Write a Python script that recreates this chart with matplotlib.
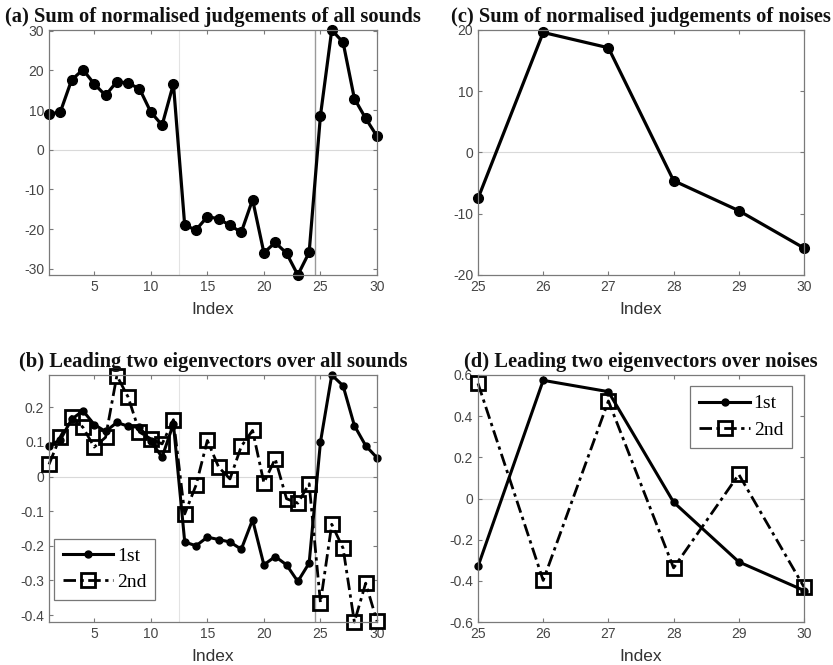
import matplotlib
matplotlib.use("Agg")
import matplotlib.pyplot as plt
import numpy as np

plt.rcParams["axes.unicode_minus"] = False

# ---- data -------------------------------------------------------------
index_all = list(range(1, 31))
sum_all = [9.0, 9.5, 17.6, 20.2, 16.6, 13.7, 17.2, 16.8, 15.4, 9.5,
           6.2, 16.6, -19.1, -20.2, -16.9, -17.4, -19.1, -20.8, -12.6, -26.0,
           -23.4, -26.1, -31.6, -25.9, 8.6, 30.2, 27.1, 12.9, 7.9, 3.4]

eig1_all = [0.088, 0.106, 0.165, 0.190, 0.150, 0.130, 0.156, 0.145, 0.142, 0.102,
            0.056, 0.152, -0.189, -0.200, -0.175, -0.182, -0.189, -0.210, -0.125, -0.255,
            -0.231, -0.255, -0.303, -0.250, 0.099, 0.293, 0.262, 0.147, 0.089, 0.054]
eig2_all = [0.035, 0.115, 0.173, 0.142, 0.085, 0.113, 0.291, 0.229, 0.128, 0.109,
            0.094, 0.164, -0.108, -0.025, 0.104, 0.027, -0.007, 0.087, 0.133, -0.018,
            0.051, -0.064, -0.077, -0.021, -0.364, -0.138, -0.207, -0.420, -0.308, -0.418]

index_noise = [25, 26, 27, 28, 29, 30]
sum_noise = [-7.5, 19.6, 17.1, -4.6, -9.5, -15.6]
eig1_noise = [-0.330, 0.574, 0.519, -0.018, -0.308, -0.447]
eig2_noise = [0.559, -0.398, 0.474, -0.337, 0.117, -0.430]

group_bounds = [12.5, 24.5]

titles = ["(a) Sum of normalised judgements of all sounds",
          "(b) Leading two eigenvectors over all sounds",
          "(c) Sum of normalised judgements of noises",
          "(d) Leading two eigenvectors over noises"]
legend_labels = ["1st", "2nd"]

# ---- style ------------------------------------------------------------
SERIF = ["Liberation Serif", "DejaVu Serif"]
SANS = ["Liberation Sans", "DejaVu Sans"]
TICK_COL = "#454545"
SPINE_COL = "#7a7a7a"
DASHDOT = (0, (4.5, 1.6, 1.2, 1.6))

fig = plt.figure(figsize=(8.33, 6.65), dpi=100)
W, H = 833, 665


def add_axes(x0, y0, x1, y1):
    return fig.add_axes([x0 / W, 1 - y1 / H, (x1 - x0) / W, (y1 - y0) / H])


def style(ax, title):
    for s in ax.spines.values():
        s.set_color(SPINE_COL)
        s.set_linewidth(0.9)
    ax.tick_params(direction="in", top=True, right=True, length=3,
                   width=0.8, color=SPINE_COL, labelcolor=TICK_COL,
                   labelsize=10, pad=3.5)
    for lab in ax.get_xticklabels() + ax.get_yticklabels():
        lab.set_family(SANS)
    ax.set_title(title, family=SERIF, fontweight="bold", fontsize=14.8,
                 pad=6, color="#111111")
    ax.set_xlabel("Index", family=SANS, fontsize=12.5, color="#333333", labelpad=6)


def leg(ax, **kw):
    lg = ax.legend(prop={"family": SERIF, "size": 14}, frameon=True,
                   fancybox=False, handlelength=2.6, handletextpad=0.2,
                   borderpad=0.45, labelspacing=0.45, borderaxespad=0, **kw)
    lg.get_frame().set_edgecolor("#555555")
    lg.get_frame().set_linewidth(0.9)
    return lg


ax_a = add_axes(49, 30, 377, 275)
ax_b = add_axes(49, 375, 377, 622)
ax_c = add_axes(478, 30, 804, 275)
ax_d = add_axes(478, 375, 804, 622)

# (a)
ax_a.axhline(0, color="#d9d9d9", lw=0.8, zorder=0)
ax_a.axvline(group_bounds[0], color="#e3e3e3", lw=0.8, zorder=0)
ax_a.axvline(group_bounds[1], color="#9a9a9a", lw=1.0, zorder=0)
ax_a.plot(index_all, sum_all, "-o", color="black", lw=2.3, ms=7, clip_on=False)
ax_a.set_xlim(1, 30)
ax_a.set_ylim(min(sum_all), max(sum_all))
ax_a.set_xticks([5, 10, 15, 20, 25, 30])
ax_a.set_yticks([-30, -20, -10, 0, 10, 20, 30])
style(ax_a, titles[0])

# (b)
ax_b.axhline(0, color="#d9d9d9", lw=0.8, zorder=0)
ax_b.axvline(group_bounds[0], color="#e3e3e3", lw=0.8, zorder=0)
ax_b.axvline(group_bounds[1], color="#9a9a9a", lw=1.0, zorder=0)
ax_b.plot(index_all, eig1_all, "-o", color="black", lw=2.2, ms=5,
          label=legend_labels[0], clip_on=False)
ax_b.plot(index_all, eig2_all, linestyle=DASHDOT, marker="s",
          color="black", lw=2.0, ms=10, mfc="none", mew=2.0,
          label=legend_labels[1], clip_on=False)
ax_b.set_xlim(1, 30)
ax_b.set_ylim(-0.42, 0.293)
ax_b.set_xticks([5, 10, 15, 20, 25, 30])
ax_b.set_yticks([-0.4, -0.3, -0.2, -0.1, 0, 0.1, 0.2])
ax_b.set_yticklabels(["-0.4", "-0.3", "-0.2", "-0.1", "0", "0.1", "0.2"])
style(ax_b, titles[1])
leg(ax_b, loc="lower left", bbox_to_anchor=(0.015, 0.089))

# (c)
ax_c.axhline(0, color="#d9d9d9", lw=0.8, zorder=0)
ax_c.plot(index_noise, sum_noise, "-o", color="black", lw=2.3, ms=7, clip_on=False)
ax_c.set_xlim(25, 30)
ax_c.set_ylim(-20, 20)
ax_c.set_yticks([-20, -10, 0, 10, 20])
style(ax_c, titles[2])

# (d)
ax_d.axhline(0, color="#d9d9d9", lw=0.8, zorder=0)
ax_d.plot(index_noise, eig1_noise, "-o", color="black", lw=2.2, ms=5,
          label=legend_labels[0], clip_on=False)
ax_d.plot(index_noise, eig2_noise, linestyle=DASHDOT, marker="s",
          color="black", lw=2.0, ms=10, mfc="none", mew=2.0,
          label=legend_labels[1], clip_on=False)
ax_d.set_xlim(25, 30)
ax_d.set_ylim(-0.6, 0.6)
ax_d.set_yticks([-0.6, -0.4, -0.2, 0, 0.2, 0.4, 0.6])
ax_d.set_yticklabels(["-0.6", "-0.4", "-0.2", "0", "0.2", "0.4", "0.6"])
style(ax_d, titles[3])
leg(ax_d, loc="upper right", bbox_to_anchor=(0.963, 0.955))

fig.savefig("out.png", dpi=100, facecolor="white")
